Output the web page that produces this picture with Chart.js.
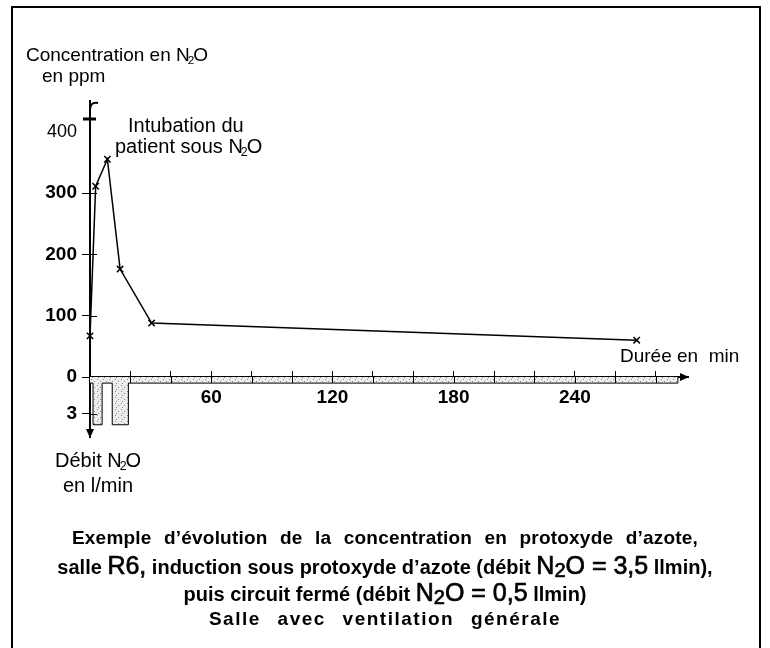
<!DOCTYPE html>
<html>
<head>
<meta charset="utf-8">
<script src="https://cdn.jsdelivr.net/npm/chart.js@4/dist/chart.umd.min.js"></script>
<style>
  body { margin: 0; background: #fff; font-family: "Liberation Sans", Arial, sans-serif; color: #000; }
  #wrap { position: relative; width: 770px; height: 648px; overflow: hidden; background: #fff; }
  #frame { position: absolute; left: 11px; top: 6px; width: 746px; height: 700px; border: 2px solid #000; }
  canvas { position: absolute; left: 0; top: 0; }
  .lbl { position: absolute; font-size: 19px; line-height: 1; white-space: pre; }
  .lbl sub { font-size: 0.62em; vertical-align: -0.25em; margin-left: -2px; margin-right: -1px; }
  .cap { position: absolute; left: 0; width: 770px; text-align: center; font-weight: bold; font-size: 20px; line-height: 24px; white-space: pre; }
  .big { font-weight: normal; font-size: 25px; -webkit-text-stroke: 0.7px #000; }
  .big sub { font-size: 0.8em; vertical-align: -0.15em; }
</style>
</head>
<body>
<div id="wrap">
  <div id="frame"></div>
  <canvas id="chart" width="770" height="648"></canvas>

  <div class="lbl" style="left:26px;top:45px">Concentration en N<sub>2</sub>O</div>
  <div class="lbl" style="left:42px;top:66px">en ppm</div>
  <div class="lbl" style="left:128px;top:115px;font-size:20px">Intubation du</div>
  <div class="lbl" style="left:115px;top:136px;font-size:20px">patient sous N<sub>2</sub>O</div>
  <div class="lbl" style="left:620px;top:346px">Durée en  min</div>
  <div class="lbl" style="left:55px;top:450px;font-size:20px">Débit N<sub>2</sub>O</div>
  <div class="lbl" style="left:63px;top:475px;font-size:20px">en l/min</div>

  <div class="cap" style="top:526px;font-size:19px;letter-spacing:0.2px;word-spacing:7px">Exemple d’évolution de la concentration en protoxyde d’azote,</div>
  <div class="cap" style="top:553px">salle <span class="big">R6,</span> induction sous protoxyde d’azote (débit <span class="big">N<sub>2</sub>O = 3,5</span> llmin),</div>
  <div class="cap" style="top:580px">puis circuit fermé (débit <span class="big">N<sub>2</sub>O = 0,5</span> llmin)</div>
  <div class="cap" style="top:607px;font-size:19px;letter-spacing:1.5px;word-spacing:10px">Salle avec ventilation générale</div>
</div>

<script>
// N2O concentration (ppm) against time (min)
const concTime = [0, 2.8, 8.6, 14.9, 30.5, 270.6];
const concPpm = [67, 311, 355, 176, 88, 60];

// N2O flow (l/min), drawn downward under the time axis
const flowTime = [0, 1.5, 6, 11, 19, 291, 291];
const flowLmin = [0.5, 3.9, 0.5, 3.9, 0.5, 0.5, 0];

const concTicks = [0, 100, 200, 300, 400];
const flowTicks = [3];
const timeTickStep = 20;
const timeLabels = [60, 120, 180, 240];

const FONT = '"Liberation Sans", Arial, sans-serif';

function stipple() {
  const c = document.createElement('canvas');
  c.width = 6; c.height = 6;
  const g = c.getContext('2d');
  g.fillStyle = '#ededed';
  g.fillRect(0, 0, 6, 6);
  g.fillStyle = '#8c8c8c';
  g.fillRect(1, 1, 1, 1);
  g.fillRect(4, 3, 1, 1);
  g.fillRect(2, 5, 1, 1);
  return g.createPattern(c, 'repeat');
}

// arrows at the axis ends, the "broken axis" hook, and the other half of the tick marks
const decor = {
  id: 'decor',
  afterDraw(chart) {
    const { ctx, chartArea: a, scales } = chart;
    const y0 = scales.y.getPixelForValue(0);
    ctx.save();
    ctx.fillStyle = '#000';
    ctx.strokeStyle = '#000';

    ctx.lineWidth = 1;
    ctx.beginPath();
    for (const t of scales.y.ticks) {
      if (t.value === 0 || t.value === 400) continue;
      const py = Math.round(scales.y.getPixelForValue(t.value)) + 0.5;
      ctx.moveTo(a.left, py);
      ctx.lineTo(a.left + 7, py);
    }
    for (const t of scales.yFlow.ticks) {
      const py = Math.round(scales.yFlow.getPixelForValue(t.value)) + 0.5;
      ctx.moveTo(a.left, py);
      ctx.lineTo(a.left + 7, py);
    }
    for (const t of scales.x.ticks) {
      if (t.value === 0) continue;
      const px = Math.round(scales.x.getPixelForValue(t.value)) + 0.5;
      ctx.moveTo(px, y0);
      ctx.lineTo(px, y0 + 6);
    }
    ctx.stroke();

    ctx.beginPath();
    ctx.moveTo(a.right + 1, y0);
    ctx.lineTo(a.right - 8, y0 - 4);
    ctx.lineTo(a.right - 8, y0 + 4);
    ctx.closePath();
    ctx.fill();
    ctx.beginPath();
    ctx.moveTo(a.left, a.bottom + 1);
    ctx.lineTo(a.left - 4, a.bottom - 8);
    ctx.lineTo(a.left + 4, a.bottom - 8);
    ctx.closePath();
    ctx.fill();

    ctx.lineWidth = 2;
    ctx.beginPath();
    ctx.moveTo(a.left, a.top + 10);
    ctx.quadraticCurveTo(a.left, a.top, a.left + 8, a.top + 2);
    ctx.stroke();
    ctx.lineWidth = 3;
    ctx.beginPath();
    ctx.moveTo(a.left - 7, a.top + 18);
    ctx.lineTo(a.left + 6, a.top + 18);
    ctx.stroke();
    ctx.restore();
  }
};

const concData = concTime.map((t, i) => ({ x: t, y: concPpm[i] }));
const flowData = flowTime.map((t, i) => ({ x: t, y: flowLmin[i] }));

new Chart(document.getElementById('chart'), {
  type: 'scatter',
  data: {
    datasets: [
      {
        label: 'Débit N2O',
        data: flowData,
        yAxisID: 'yFlow',
        showLine: true,
        stepped: true,
        fill: 'origin',
        backgroundColor: stipple(),
        borderColor: '#000',
        borderWidth: 1,
        pointRadius: 0,
        clip: false
      },
      {
        label: 'Concentration N2O',
        data: concData,
        yAxisID: 'y',
        showLine: true,
        tension: 0,
        borderColor: '#000',
        borderWidth: 1.5,
        pointStyle: 'crossRot',
        pointRadius: 4.5,
        pointBorderWidth: 1.5,
        pointBorderColor: '#000',
        clip: false
      }
    ]
  },
  options: {
    responsive: false,
    animation: false,
    devicePixelRatio: 1,
    layout: { padding: { left: 0, top: 101, right: 82, bottom: 211 } },
    plugins: { legend: { display: false }, tooltip: { enabled: false } },
    scales: {
      x: {
        type: 'linear',
        min: 0,
        max: 296,
        position: { y: 0 },
        border: { display: true, color: '#000', width: 2 },
        grid: { drawOnChartArea: false, color: '#000', lineWidth: 1, tickLength: -7 },
        ticks: {
          autoSkip: false,
          maxRotation: 0,
          padding: 16,
          color: '#000',
          font: { family: FONT, size: 19, weight: 'bold' },
          callback: v => timeLabels.includes(v) ? String(v) : ''
        },
        afterBuildTicks: s => {
          const out = [];
          for (let v = 0; v <= 280; v += timeTickStep) out.push({ value: v });
          s.ticks = out;
        }
      },
      yFlow: {
        type: 'linear',
        stack: 'v',
        stackWeight: 60,
        position: 'left',
        reverse: true,
        min: 0,
        max: 4.9,
        border: { display: true, color: '#000', width: 2 },
        grid: { drawOnChartArea: false, tickLength: 8, color: '#000' },
        ticks: {
          padding: 5,
          color: '#000',
          font: { family: FONT, size: 19, weight: 'bold' }
        },
        afterBuildTicks: s => { s.ticks = flowTicks.map(v => ({ value: v })); },
        afterFit: s => { s.width = 90; }
      },
      y: {
        type: 'linear',
        stack: 'v',
        stackWeight: 276,
        position: 'left',
        min: 0,
        max: 450,
        border: { display: true, color: '#000', width: 2 },
        grid: {
          drawOnChartArea: false,
          tickLength: 8,
          color: ctx => (ctx.tick && ctx.tick.value === 400) ? 'rgba(0,0,0,0)' : '#000'
        },
        ticks: {
          padding: 5,
          color: '#000',
          font: ctx => (ctx.tick && ctx.tick.value === 400)
            ? { family: FONT, size: 18, weight: 'normal' }
            : { family: FONT, size: 19, weight: 'bold' }
        },
        afterBuildTicks: s => { s.ticks = concTicks.map(v => ({ value: v })); },
        afterFit: s => { s.width = 90; }
      }
    }
  },
  plugins: [decor]
});
</script>
</body>
</html>
